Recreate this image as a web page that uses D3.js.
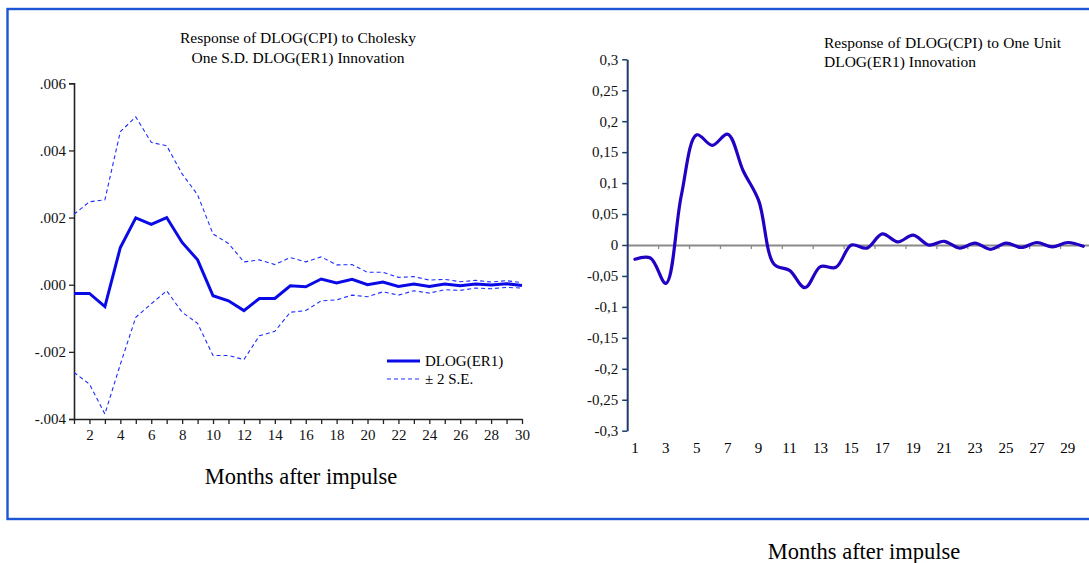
<!DOCTYPE html>
<html>
<head>
<meta charset="utf-8">
<script src="https://cdn.jsdelivr.net/npm/d3@7"></script>
<style>
  html, body { margin: 0; padding: 0; background: #fff; }
  svg { display: block; font-family: "Liberation Serif", "Times New Roman", serif; }
</style>
</head>
<body>
<svg id="chart" width="1089" height="563"></svg>
<script>
// Impulse-response horizon (months after impulse)
const months = d3.range(1, 31);

// Left panel: response to a Cholesky one-S.D. innovation, with ±2 S.E. bands
const irfCholesky = [-0.00026, -0.00026, -0.00065, 0.00111, 0.00199, 0.00180, 0.00200, 0.00126, 0.00074, -0.00033,
  -0.00048, -0.00077, -0.00041, -0.00041, -0.00003, -0.00006, 0.00017, 0.00005, 0.00016, 0.00000,
  0.00008, -0.00005, 0.00002, -0.00005, 0.00002, -0.00003, 0.00002, -0.00001, 0.00003, -0.00002];
const upperBand = [0.00210, 0.00247, 0.00253, 0.00456, 0.00500, 0.00424, 0.00414, 0.00330, 0.00268, 0.00151,
  0.00123, 0.00068, 0.00074, 0.00060, 0.00081, 0.00068, 0.00083, 0.00059, 0.00060, 0.00037,
  0.00037, 0.00022, 0.00024, 0.00014, 0.00016, 0.00009, 0.00013, 0.00008, 0.00012, 0.00006];
const lowerBand = [-0.00261, -0.00296, -0.00385, -0.00237, -0.00097, -0.00057, -0.00018, -0.00082, -0.00115, -0.00211,
  -0.00211, -0.00223, -0.00152, -0.00139, -0.00082, -0.00077, -0.00048, -0.00045, -0.00031, -0.00036,
  -0.00021, -0.00031, -0.00018, -0.00025, -0.00015, -0.00017, -0.00010, -0.00012, -0.00008, -0.00010];
const leftYTicks = [-0.004, -0.002, 0, 0.002, 0.004, 0.006];
const leftYTickLabels = ["-.004", "-.002", ".000", ".002", ".004", ".006"];
const leftXTickLabels = d3.range(2, 31, 2);

// Right panel: response to a one-unit innovation
const irfUnit = [-0.023, -0.021, -0.062, 0.080, 0.178, 0.161, 0.179, 0.120, 0.072, -0.031,
  -0.041, -0.069, -0.035, -0.036, 0.000, -0.005, 0.018, 0.005, 0.016, 0.000,
  0.006, -0.005, 0.003, -0.007, 0.003, -0.004, 0.004, -0.003, 0.004, -0.002];
const rightYTicks = [-0.3, -0.25, -0.2, -0.15, -0.1, -0.05, 0, 0.05, 0.1, 0.15, 0.2, 0.25, 0.3];
const rightYTickLabels = ["-0,3", "-0,25", "-0,2", "-0,15", "-0,1", "-0,05", "0", "0,05", "0,1", "0,15", "0,2", "0,25", "0,3"];
const rightXTickLabels = d3.range(1, 30, 2);

const svg = d3.select("#chart");
const FS = 15;        // tick and title font size
const FS_AXIS = 22.5; // "Months after impulse"

// Outer frame
svg.append("rect")
  .attr("x", 7.5).attr("y", 9).attr("width", 1100).attr("height", 510)
  .attr("fill", "none").attr("stroke", "#1d56d4").attr("stroke-width", 2.4);

// ---------- Left panel ----------
const xL = d3.scaleLinear().domain([1, 30]).range([74, 522]);
const yL = d3.scaleLinear().domain([-0.004, 0.006]).range([419, 83.3]);

const left = svg.append("g");

left.append("text").attr("x", 298).attr("y", 43).attr("text-anchor", "middle")
  .attr("font-size", 15.5).text("Response of DLOG(CPI) to Cholesky");
left.append("text").attr("x", 298).attr("y", 62.5).attr("text-anchor", "middle")
  .attr("font-size", 15.5).text("One S.D. DLOG(ER1) Innovation");

const yAxisL = d3.axisLeft(yL).tickValues(leftYTicks)
  .tickFormat((d, i) => leftYTickLabels[i]).tickSize(5).tickPadding(3);
left.append("g").attr("transform", `translate(${xL(1)},0)`).call(yAxisL)
  .call(g => g.select(".domain").attr("stroke", "#222").attr("stroke-width", 1.6))
  .call(g => g.selectAll(".tick line").attr("stroke", "#222").attr("stroke-width", 1.3))
  .call(g => g.selectAll(".tick text").attr("font-size", FS).attr("fill", "#111")
    .attr("font-family", "Liberation Serif"));

const xAxisL = d3.axisBottom(xL).tickValues(months)
  .tickFormat(d => leftXTickLabels.includes(d) ? d : "").tickSize(5).tickPadding(5).tickSizeOuter(0);
left.append("g").attr("transform", `translate(0,${yL(-0.004)})`).call(xAxisL)
  .call(g => g.select(".domain").attr("stroke", "#222").attr("stroke-width", 1.6))
  .call(g => g.selectAll(".tick line").attr("stroke", "#222").attr("stroke-width", 1.3))
  .call(g => g.selectAll(".tick text").attr("font-size", FS).attr("fill", "#111")
    .attr("font-family", "Liberation Serif"));

const lineL = d3.line().x((d, i) => xL(months[i])).y(d => yL(d));

left.append("path").datum(upperBand).attr("d", lineL)
  .attr("fill", "none").attr("stroke", "#1c2cff").attr("stroke-width", 1.1).attr("stroke-dasharray", "4,3");
left.append("path").datum(lowerBand).attr("d", lineL)
  .attr("fill", "none").attr("stroke", "#1c2cff").attr("stroke-width", 1.1).attr("stroke-dasharray", "4,3");
left.append("path").datum(irfCholesky).attr("d", lineL)
  .attr("fill", "none").attr("stroke", "#0a0ae6").attr("stroke-width", 3).attr("stroke-linejoin", "miter");

// Legend
const legend = left.append("g");
legend.append("line").attr("x1", 387).attr("x2", 420).attr("y1", 361).attr("y2", 361)
  .attr("stroke", "#0a0ae6").attr("stroke-width", 3);
legend.append("text").attr("x", 425).attr("y", 366).attr("font-size", FS).text("DLOG(ER1)");
legend.append("line").attr("x1", 387).attr("x2", 420).attr("y1", 379).attr("y2", 379)
  .attr("stroke", "#1c2cff").attr("stroke-width", 1.1).attr("stroke-dasharray", "4,3");
legend.append("text").attr("x", 425).attr("y", 384).attr("font-size", FS).text("\u00b1 2 S.E.");

left.append("text").attr("x", 301).attr("y", 484).attr("text-anchor", "middle")
  .attr("font-size", FS_AXIS).text("Months after impulse");

// ---------- Right panel ----------
const xR = d3.scaleLinear().domain([0.5, 30.5]).range([627.2, 1091]);
const yR = d3.scaleLinear().domain([-0.3, 0.3]).range([430.7, 59.3]);

const right = svg.append("g");

right.append("text").attr("x", 824).attr("y", 47.5).attr("font-size", 15.5)
  .attr("word-spacing", 0.5).text("Response of DLOG(CPI) to One Unit");
right.append("text").attr("x", 824).attr("y", 67).attr("font-size", 15.5)
  .text("DLOG(ER1) Innovation");

// Horizontal zero line with category tick marks every two months
const zeroAxis = d3.axisBottom(xR).tickValues(d3.range(2.5, 30, 2)).tickFormat("").tickSize(4).tickSizeOuter(0);
right.append("g").attr("transform", `translate(0,${yR(0)})`).call(zeroAxis)
  .call(g => g.select(".domain").attr("stroke", "#8a8a8a").attr("stroke-width", 1.8))
  .call(g => g.selectAll(".tick line").attr("stroke", "#8a8a8a").attr("stroke-width", 1.3));

const yAxisR = d3.axisLeft(yR).tickValues(rightYTicks)
  .tickFormat((d, i) => rightYTickLabels[i]).tickSize(5).tickPadding(4).tickSizeOuter(0);
right.append("g").attr("transform", `translate(${xR(0.5)},0)`).call(yAxisR)
  .call(g => g.select(".domain").attr("stroke", "#1f3a6e").attr("stroke-width", 2))
  .call(g => g.selectAll(".tick line").attr("stroke", "#1f3a6e").attr("stroke-width", 1.5))
  .call(g => g.selectAll(".tick text").attr("font-size", FS).attr("fill", "#111")
    .attr("font-family", "Liberation Serif"));

// Category labels below the plot area
right.append("g").selectAll("text").data(rightXTickLabels).join("text")
  .attr("x", d => xR(d)).attr("y", 453).attr("text-anchor", "middle")
  .attr("font-size", FS).text(d => d);

const lineR = d3.line().x((d, i) => xR(months[i])).y(d => yR(d)).curve(d3.curveCatmullRom.alpha(0.5));
right.append("path").datum(irfUnit).attr("d", lineR)
  .attr("fill", "none").attr("stroke", "#2200c4").attr("stroke-width", 3.2)
  .attr("stroke-linejoin", "round").attr("stroke-linecap", "round");

right.append("text").attr("x", 864).attr("y", 559).attr("text-anchor", "middle")
  .attr("font-size", FS_AXIS).text("Months after impulse");
</script>
</body>
</html>
